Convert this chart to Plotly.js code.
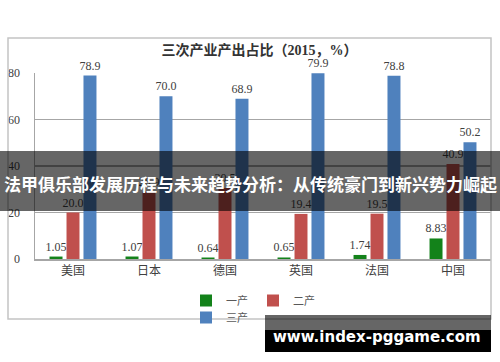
<!DOCTYPE html>
<html>
<head>
<meta charset="utf-8">
<script src="https://cdn.plot.ly/plotly-3.0.1.min.js"></script>
<style>html,body{margin:0;padding:0;background:#fff;}#chart{width:500px;height:362px;}</style>
</head>
<body>
<div id="chart"></div>
<script>
const categories = ['美国', '日本', '德国', '英国', '法国', '中国'];
const primary = [1.05, 1.07, 0.64, 0.65, 1.74, 8.83];
const secondary = [20.0, 28.9, 30.5, 19.4, 19.5, 40.9];
const tertiary = [78.9, 70.0, 68.9, 79.9, 78.8, 50.2];
const seriesNames = ['一产', '二产', '三产'];
const yTicks = [0, 20, 40, 60, 80];
const chartTitle = '三次产业产出占比（2015，%）';
const bannerText = '法甲俱乐部发展历程与未来趋势分析：从传统豪门到新兴势力崛起';
const watermarkText = 'www.index-pggame.com';

const serif = 'Liberation Serif, Times New Roman, Noto Sans CJK SC, serif';
const labelFont = {family: serif, size: 12, color: '#404040'};

function barTrace(name, vals, color, fmt, legend) {
  return {
    type: 'bar', name: name, x: categories, y: vals,
    marker: {color: color},
    texttemplate: fmt, textposition: 'outside',
    textfont: labelFont, constraintext: 'none', cliponaxis: false,
    hoverinfo: 'skip', legend: legend
  };
}

const data = [
  barTrace(seriesNames[0], primary, '#13821a', '%{y:.2f}', 'legend'),
  barTrace(seriesNames[1], secondary, '#c0504d', '%{y:.1f}', 'legend'),
  barTrace(seriesNames[2], tertiary, '#4f81bd', '%{y:.1f}', 'legend2')
];

// pixel -> paper helpers (plot area: x 35..491, y 73..259)
const L = 35, R = 491, T = 73, B = 259;
const px = v => (v - L) / (R - L);
const py = v => (B - v) / (B - T);

const layout = {
  width: 500, height: 362,
  margin: {l: L, r: 500 - R, t: T, b: 362 - B, pad: 0},
  paper_bgcolor: '#ffffff', plot_bgcolor: '#ffffff',
  barmode: 'group', bargap: 0.33, bargroupgap: 0.235,
  showlegend: true,
  title: {
    text: chartTitle, x: 0.519, xanchor: 'center', xref: 'container',
    y: 1 - 50 / 362, yanchor: 'middle', yref: 'container',
    font: {family: serif, size: 14, color: '#333333', weight: 'bold'}
  },
  xaxis: {
    type: 'category', showgrid: false, zeroline: false,
    showline: true, linecolor: '#a6a6a6', linewidth: 1.5,
    ticks: '', tickfont: {family: serif, size: 12, color: '#404040'},
    fixedrange: true
  },
  yaxis: {
    range: [0, 80], tickvals: yTicks, showgrid: true,
    gridcolor: '#a6a6a6', gridwidth: 1.5, zeroline: false,
    showline: true, linecolor: '#a6a6a6', linewidth: 1.5,
    ticks: '', ticklabelstandoff: 11,
    tickfont: {family: serif, size: 12, color: '#404040'},
    fixedrange: true
  },
  legend: {
    orientation: 'h', x: px(186), xanchor: 'left', y: py(286), yanchor: 'top',
    bgcolor: 'rgba(0,0,0,0)', font: {family: serif, size: 11, color: '#595959'},
    entrywidth: 22, entrywidthmode: 'pixels', itemclick: false
  },
  legend2: {
    orientation: 'h', x: px(186), xanchor: 'left', y: py(303), yanchor: 'top',
    bgcolor: 'rgba(0,0,0,0)', font: {family: serif, size: 11, color: '#595959'},
    itemclick: false
  },
  shapes: [
    {type: 'rect', xref: 'paper', yref: 'paper', x0: px(8), x1: px(491), y0: py(319), y1: py(38),
     line: {color: '#c4c4c4', width: 1.5}, fillcolor: 'rgba(0,0,0,0)', layer: 'above'},
    {type: 'rect', xref: 'paper', yref: 'paper', x0: px(-5), x1: px(505), y0: py(211), y1: py(151),
     line: {width: 0}, fillcolor: 'rgba(0,0,0,0.6)', layer: 'above'},
    {type: 'rect', xref: 'paper', yref: 'paper', x0: px(265), x1: px(491), y0: py(330), y1: py(315),
     line: {width: 0}, fillcolor: 'rgba(0,0,0,0.6)', layer: 'above'},
    {type: 'rect', xref: 'paper', yref: 'paper', x0: px(265), x1: px(491), y0: py(352), y1: py(330),
     line: {width: 0}, fillcolor: '#000000', layer: 'above'}
  ],
  annotations: [
    {text: bannerText, xref: 'paper', yref: 'paper', x: px(250), y: py(183),
     xanchor: 'center', yanchor: 'middle', showarrow: false,
     font: {family: 'Noto Sans CJK SC, sans-serif', size: 17, color: '#ffffff', weight: 'bold'}},
    {text: watermarkText, xref: 'paper', yref: 'paper', x: px(377), y: py(337),
     xanchor: 'center', yanchor: 'middle', showarrow: false,
     font: {family: 'DejaVu Sans, sans-serif', size: 15, color: '#ffffff', weight: 'bold'}}
  ]
};

Plotly.newPlot('chart', data, layout, {displayModeBar: false, staticPlot: true});
</script>
</body>
</html>
